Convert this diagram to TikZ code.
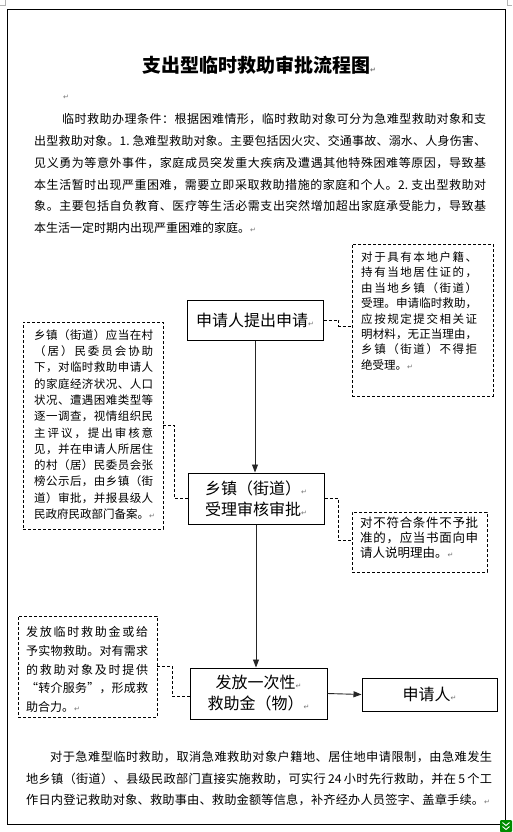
\documentclass[tikz,border=0pt]{standalone}
\usepackage{fontspec}
\usetikzlibrary{arrows.meta,calc}
\newfontfamily\cjk{Noto Sans CJK SC}
\newfontfamily\sym{DejaVu Sans}
\ExplSyntaxOn
\cs_new_protected:Npn \my_jl:nn #1#2 { \hbox_to_wd:nn {#1} { \tl_map_inline:nn {#2} { ##1 \hfil } \unskip } }
\NewDocumentCommand\jl{mm}{\my_jl:nn{#1}{#2}}
\ExplSyntaxOff
\newcommand\pmark{{\sym\fontsize{7}{7}\selectfont\color{black!55}↵}}
\newcommand\mypara[2]{\vtop{\baselineskip=#1\relax\lineskiplimit=-20pt\lineskip=0pt #2}}
\begin{document}
\begin{tikzpicture}[x=1pt,y=-1pt,
  flowbox/.style={draw, line width=1pt, inner sep=0pt, align=center, font=\cjk\fontsize{16}{21}\selectfont},
  dbox/.style={draw, dash pattern=on 3pt off 2pt, line width=0.8pt, inner sep=0pt},
  dconn/.style={dash pattern=on 3pt off 2pt, line width=0.8pt},
  arr/.style={line width=0.9pt, draw=black!85, -{Triangle[length=8pt,width=6pt]}},
  ptext/.style={anchor=base west, inner sep=0pt}]
\useasboundingbox (0,0) rectangle (512,832);
\fill[white] (0,0) rectangle (512,832);
% page frame and marks
\draw[line width=1pt] (7.5,9.5) rectangle (505.5,824.5);
\draw[gray!60, line width=0.5pt] (5,0) -- (5,5) -- (0,5);
\draw[gray!60, line width=0.5pt] (507,0) -- (507,5) -- (512,5);
\fill[green!55!black, rounded corners=1pt] (500,820) rectangle (512,832);
\draw[white, line width=0.9pt] (502.5,822.5) -- (506,825.5) -- (509.5,822.5);
\draw[white, line width=0.9pt] (502.5,826.5) -- (506,829.5) -- (509.5,826.5);
% title
\node[anchor=west, inner sep=0pt, font=\cjk\bfseries\fontsize{19}{19}\selectfont] (title) at (142,65) {支出型临时救助审批流程图\pmark};
\node[inner sep=0pt] (empty) at (66,97) {\pmark};
% intro paragraph
\node[ptext, font=\cjk\fontsize{12}{12}\selectfont] (intro) at (34,123.6) {\mypara{21.8pt}{%
\hbox{\hskip28pt\jl{424pt}{临时救助办理条件：根据困难情形，临时救助对象可分为急难型救助对象和支}}
\jl{452pt}{出型救助对象。{1.~}急难型救助对象。主要包括因火灾、交通事故、溺水、人身伤害、}
\jl{452pt}{见义勇为等意外事件，家庭成员突发重大疾病及遭遇其他特殊困难等原因，导致基}
\jl{452pt}{本生活暂时出现严重困难，需要立即采取救助措施的家庭和个人。{2.~}支出型救助对}
\jl{452pt}{象。主要包括自负教育、医疗等生活必需支出突然增加超出家庭承受能力，导致基}
\hbox{本生活一定时期内出现严重困难的家庭。\pmark}}};
% flow boxes
\node[flowbox, minimum width=136pt, minimum height=40pt] (b1) at (255,320) {申请人提出申请\pmark};
\node[flowbox, minimum width=136pt, minimum height=51pt] (b2) at (256,498.5) {乡镇（街道）\pmark\\受理审核审批\pmark};
\node[flowbox, minimum width=137pt, minimum height=51pt] (b3) at (258.5,693.5) {发放一次性\pmark\\救助金（物）\pmark};
\node[flowbox, minimum width=135pt, minimum height=33pt] (b4) at (429.5,694.5) {申请人\pmark};
\draw[arr] (b1.south) -- (b1.south |- b2.north);
\draw[arr] (b2.south) -- (b2.south |- b3.north);
\draw[arr] (b3.east) -- (b4.west);
% dashed note boxes
\node[dbox, minimum width=141pt, minimum height=152pt] (d1) at (422.5,320) {};
\node[dbox, minimum width=140pt, minimum height=207pt] (d2) at (93,425.5) {};
\node[dbox, minimum width=135pt, minimum height=60pt] (d3) at (419.5,542) {};
\node[dbox, minimum width=139pt, minimum height=101pt] (d4) at (87.5,666.5) {};
\node[ptext, font=\cjk\fontsize{11.5}{11.5}\selectfont] (t1) at (361,261.4) {\mypara{15.4pt}{%
\jl{116pt}{对于具有本地户籍、}
\jl{116pt}{持有当地居住证的，}
\jl{116pt}{由当地乡镇（街道）}
\jl{116pt}{受理。申请临时救助，}
\jl{116pt}{应按规定提交相关证}
\jl{116pt}{明材料，无正当理由，}
\jl{116pt}{乡镇（街道）不得拒}
\hbox{绝受理。\pmark}}};
\node[ptext, font=\cjk\fontsize{11.5}{11.5}\selectfont] (t2) at (34,339.4) {\mypara{16.27pt}{%
\jl{119pt}{乡镇（街道）应当在村}
\jl{119pt}{（居）民委员会协助}
\jl{119pt}{下，对临时救助申请人}
\jl{119pt}{的家庭经济状况、人口}
\jl{119pt}{状况、遭遇困难类型等}
\jl{119pt}{逐一调查，视情组织民}
\jl{119pt}{主评议，提出审核意}
\jl{119pt}{见，并在申请人所居住}
\jl{119pt}{的村（居）民委员会张}
\jl{119pt}{榜公示后，由乡镇（街}
\jl{119pt}{道）审批，并报县级人}
\hbox{民政府民政部门备案。\pmark}}};
\node[ptext, font=\cjk\fontsize{12.5}{12.5}\selectfont] (t3) at (360,527.8) {\mypara{15pt}{%
\jl{118pt}{对不符合条件不予批}
\jl{118pt}{准的，应当书面向申}
\hbox{请人说明理由。\pmark}}};
\node[ptext, font=\cjk\fontsize{12}{12}\selectfont] (t4) at (26,636.6) {\mypara{18.7pt}{%
\jl{122pt}{发放临时救助金或给}
\jl{122pt}{予实物救助。对有需求}
\jl{122pt}{的救助对象及时提供}
\jl{122pt}{“转介服务”，形成救}
\hbox{助合力。\pmark}}};
% dashed connectors
\draw[dconn] (b1.east) -- ++(15,0) |- ($(d1.west)+(0,6)$);
\draw[dconn] (d2.east) -| ($(b2.west)+(-13,0)$) -- (b2.west);
\draw[dconn] (b2.east) -- ++(14,0) |- ($(d3.west)+(0,-2)$);
\draw[dconn] (d4.east) -| ($(b3.west)+(-17,3)$) -- ($(b3.west)+(0,3)$);
% closing paragraph
\node[ptext, font=\cjk\fontsize{12.2}{12.2}\selectfont] (outro) at (26,761.6) {\mypara{21.5pt}{%
\hbox{\hskip24pt\jl{442pt}{对于急难型临时救助，取消急难救助对象户籍地、居住地申请限制，由急难发生}}
\jl{466pt}{地乡镇（街道）、县级民政部门直接实施救助，可实行{\,24\,}小时先行救助，并在{\,5\,}个工}
\hbox{\jl{458pt}{作日内登记救助对象、救助事由、救助金额等信息，补齐经办人员签字、盖章手续。}\pmark}}};
\end{tikzpicture}
\end{document}
